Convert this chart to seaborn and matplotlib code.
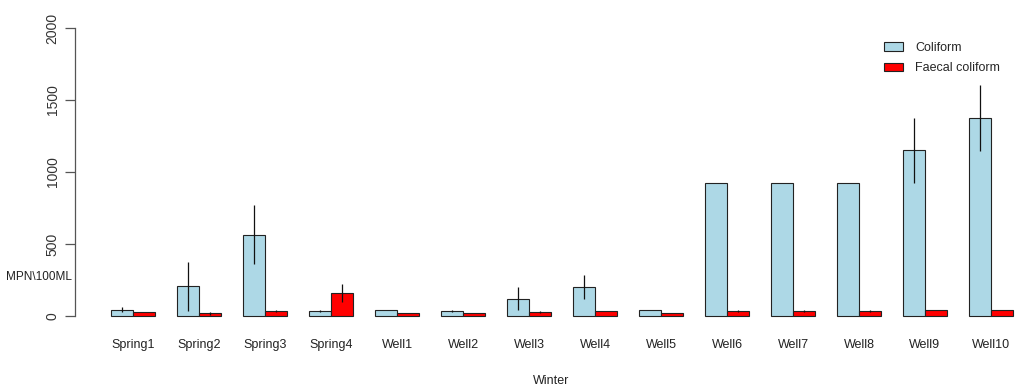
import numpy as np
import pandas as pd
import matplotlib
matplotlib.use("Agg")
import matplotlib.pyplot as plt
from matplotlib.patches import Patch
import seaborn as sns

# Sampling sites
sites = ["Spring1", "Spring2", "Spring3", "Spring4", "Well1", "Well2", "Well3",
         "Well4", "Well5", "Well6", "Well7", "Well8", "Well9", "Well10"]

# Mean counts (MPN/100 mL) and standard errors, winter campaign
coliform = [45, 205, 565, 35, 40, 35, 120, 200, 43, 923, 923, 923, 1150, 1375]
coliform_err = [20, 170, 205, 5, 0, 10, 80, 85, 0, 0, 0, 0, 228, 230]
faecal = [30, 18, 35, 160, 20, 20, 30, 36, 20, 35, 35, 35, 42, 42]
faecal_err = [0, 8, 8, 65, 0, 0, 8, 0, 0, 8, 8, 8, 0, 0]

series = ["Coliform", "Faecal coliform"]
colors = {"Coliform": "#ADD8E6", "Faecal coliform": "#FF0000"}
yticks = [0, 500, 1000, 1500, 2000]

df = pd.DataFrame({
    "site": sites * 2,
    "type": [series[0]] * len(sites) + [series[1]] * len(sites),
    "value": coliform + faecal,
})

sns.set_style("white")
plt.rcParams["font.family"] = ["Liberation Sans", "DejaVu Sans"]

W, H = 1017, 389
fig = plt.figure(figsize=(W / 100, H / 100), dpi=100)
ax = fig.add_axes([75 / W, (H - 327.5) / H, 1 - 75 / W, (327.5 - 16.5) / H])

sns.barplot(data=df, x="site", y="value", hue="type", hue_order=series,
            palette=colors, saturation=1, width=2 / 3, edgecolor="#222222",
            linewidth=0.8, errorbar=None, legend=False, ax=ax)

# Error bars (no caps) on top of each bar
for cont, vals, errs in zip(ax.containers, [coliform, faecal], [coliform_err, faecal_err]):
    for bar, v, e in zip(cont, vals, errs):
        if e > 0:
            xc = bar.get_x() + bar.get_width() / 2
            ax.vlines(xc, v - e, v + e, color="#111111", lw=0.9, zorder=5)

ax.set_xlim(-0.879, 13.394)
ax.set_ylim(-80, 2080)
ax.set_xlabel("")
ax.set_ylabel("")

for s in ["top", "right", "bottom"]:
    ax.spines[s].set_visible(False)
ax.spines["left"].set_bounds(0, 2000)
ax.spines["left"].set_color("#555555")
ax.spines["left"].set_linewidth(0.9)

ax.set_yticks(yticks)
ax.set_yticklabels([str(t) for t in yticks], rotation=90, va="center",
                   fontsize=10, color="#333333")
ax.tick_params(axis="y", length=7, width=0.9, color="#555555", pad=4, left=True)
ax.tick_params(axis="x", length=0, pad=8, labelsize=9, labelcolor="#222222")

fig.text(551 / W, 1 - 381 / H, "Winter", ha="center", va="center",
         fontsize=9, color="#222222")
fig.text(72 / W, 1 - 277 / H, "MPN\\100ML", ha="right", va="center",
         fontsize=8.5, color="#222222")

handles = [Patch(facecolor=colors[s], edgecolor="#222222", linewidth=0.8) for s in series]
fig.legend(handles, series, loc="upper left", bbox_to_anchor=(884 / W, 1 - 42 / H),
           frameon=False, fontsize=9, handlelength=1.5, handleheight=0.65,
           handletextpad=1.0, labelspacing=0.65, borderaxespad=0, borderpad=0)

fig.savefig("out.png", dpi=100)
